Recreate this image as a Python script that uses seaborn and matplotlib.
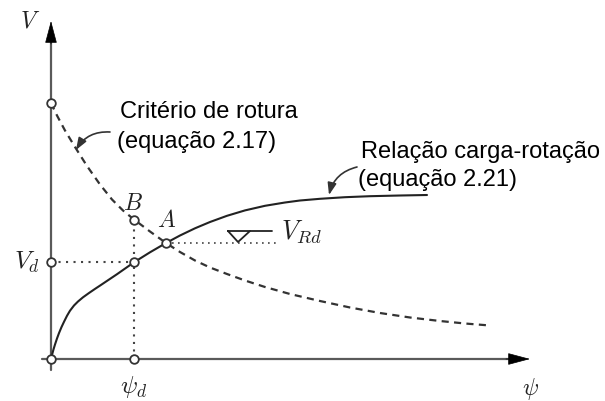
import matplotlib
matplotlib.use("Agg")
import matplotlib.pyplot as plt
import seaborn as sns
import pandas as pd

# Load-rotation relation (equation 2.21)
psi_load = [0, 0.01, 0.025, 0.04, 0.06, 0.08, 0.105, 0.13, 0.16, 0.19, 0.23,
            0.27, 0.32, 0.38, 0.44, 0.49, 0.66, 0.83, 0.99, 1.15, 1.29, 1.44,
            1.59, 1.76, 1.94, 2.14, 2.34, 2.49, 2.69, 2.94, 3.19, 3.49, 3.76]
v_load = [0, 0.04, 0.096, 0.145, 0.205, 0.259, 0.319, 0.372, 0.432, 0.483,
          0.535, 0.575, 0.617, 0.660, 0.701, 0.734, 0.848, 0.967, 1.067, 1.16,
          1.235, 1.307, 1.37, 1.432, 1.486, 1.532, 1.565, 1.585, 1.602, 1.618,
          1.628, 1.635, 1.64]

# Failure criterion (equation 2.17)
psi_fail = [0, 0.06, 0.14, 0.24, 0.36, 0.49, 0.61, 0.72, 0.83, 0.99, 1.15,
            1.29, 1.44, 1.59, 1.76, 1.94, 2.14, 2.39, 2.69, 2.99, 3.29, 3.59,
            3.89, 4.14, 4.39]
v_fail = [2.56, 2.435, 2.285, 2.12, 1.93, 1.745, 1.595, 1.485, 1.395, 1.275,
          1.16, 1.07, 0.985, 0.915, 0.85, 0.785, 0.72, 0.65, 0.58, 0.515, 0.46,
          0.415, 0.38, 0.355, 0.335]

# Characteristic points
psi_d, v_d = 0.83, 0.967
v_b = 1.395
psi_a, v_a = 1.15, 1.16
v_fail0 = 2.56
psi_rd_end = 2.29

sns.set_theme(style="white")
plt.rcParams["mathtext.fontset"] = "cm"
plt.rcParams["font.family"] = ["Liberation Sans", "DejaVu Sans"]

fig = plt.figure(figsize=(6.05, 4.01), dpi=100)
ax = fig.add_axes([0, 0, 1, 1])
ax.set_xlim(-0.51, 5.54)
ax.set_ylim(-0.42, 3.59)
ax.set_axis_off()

axis_col = "#5a5a5a"
ink = "#222222"

# Coordinate axes with arrowheads
ax.plot([-0.09, 4.70], [0, 0], color=axis_col, lw=1.6, zorder=1)
ax.plot([0, 0], [-0.11, 3.30], color=axis_col, lw=1.6, zorder=1)
ax.annotate("", xy=(4.79, 0), xytext=(4.55, 0),
            arrowprops=dict(arrowstyle="-|>,head_length=1.2,head_width=0.32",
                            color="black", lw=0.5, shrinkA=0, shrinkB=0))
ax.annotate("", xy=(0, 3.38), xytext=(0, 3.15),
            arrowprops=dict(arrowstyle="-|>,head_length=1.2,head_width=0.32",
                            color="black", lw=0.5, shrinkA=0, shrinkB=0))

# Guide lines
dot = (0, (1, 2.6))
ax.plot([0, psi_d], [v_d, v_d], color="#444444", lw=1.5, ls=dot, zorder=2)
ax.plot([psi_d, psi_d], [0, v_b], color="#444444", lw=1.5, ls=dot, zorder=2)
ax.plot([psi_a, psi_rd_end], [v_a, v_a], color="#444444", lw=1.2, ls=dot, zorder=2)

# Curves
df_load = pd.DataFrame({"psi": psi_load, "V": v_load})
df_fail = pd.DataFrame({"psi": psi_fail, "V": v_fail})
sns.lineplot(data=df_load, x="psi", y="V", ax=ax, color=ink, lw=1.5,
             sort=False, estimator=None, solid_joinstyle="round", zorder=3)
sns.lineplot(data=df_fail, x="psi", y="V", ax=ax, color="#333333", lw=1.6,
             sort=False, estimator=None, linestyle=(0, (3.2, 2.4)), zorder=3)

# Open circle markers
pts_x = [0, 0, 0, psi_d, psi_d, psi_d, psi_a]
pts_y = [0, v_fail0, v_d, 0, v_d, v_b, v_a]
ax.plot(pts_x, pts_y, ls="none", marker="o", ms=6.2, mfc="white",
        mec="#333333", mew=1.3, zorder=5)

# Design resistance symbol
ax.plot([1.77, 1.99, 1.87, 1.77], [1.28, 1.28, 1.17, 1.28], color=ink, lw=1.3, zorder=4)
ax.plot([1.99, 2.21], [1.28, 1.28], color=ink, lw=1.3, zorder=4)

# Math labels
ax.text(-0.21, 3.37, r"$V$", fontsize=17, ha="center", va="center", color=ink)
ax.text(-0.24, 0.97, r"$V_d$", fontsize=18, ha="center", va="center", color=ink)
ax.text(0.83, -0.28, r"$\psi_d$", fontsize=18, ha="center", va="center", color=ink)
ax.text(4.79, -0.30, r"$\psi$", fontsize=17, ha="center", va="center", color=ink)
ax.text(0.82, 1.55, r"$B$", fontsize=17, ha="center", va="center", color=ink)
ax.text(1.16, 1.38, r"$A$", fontsize=17, ha="center", va="center", color=ink)
ax.text(2.30, 1.27, r"$V_{Rd}$", fontsize=19, ha="left", va="center", color=ink)

# Annotations
ax.text(0.69, 2.47, "Critério de rotura", fontsize=17, ha="left", va="center", color="black")
ax.text(0.66, 2.17, "(equação 2.17)", fontsize=17, ha="left", va="center", color="black")
ax.text(3.10, 2.07, "Relação carga-rotação", fontsize=17, ha="left", va="center", color="black")
ax.text(3.07, 1.79, "(equação 2.21)", fontsize=17, ha="left", va="center", color="black")

ax.annotate("", xy=(0.25, 2.09), xytext=(0.59, 2.27),
            arrowprops=dict(arrowstyle="-|>,head_length=0.6,head_width=0.22",
                            connectionstyle="arc3,rad=0.3", color="#333333",
                            lw=1.2, shrinkA=0, shrinkB=0))
ax.annotate("", xy=(2.78, 1.64), xytext=(3.06, 1.92),
            arrowprops=dict(arrowstyle="-|>,head_length=0.6,head_width=0.22",
                            connectionstyle="arc3,rad=0.3", color="#333333",
                            lw=1.2, shrinkA=0, shrinkB=0))

fig.savefig("out.png", dpi=100)
